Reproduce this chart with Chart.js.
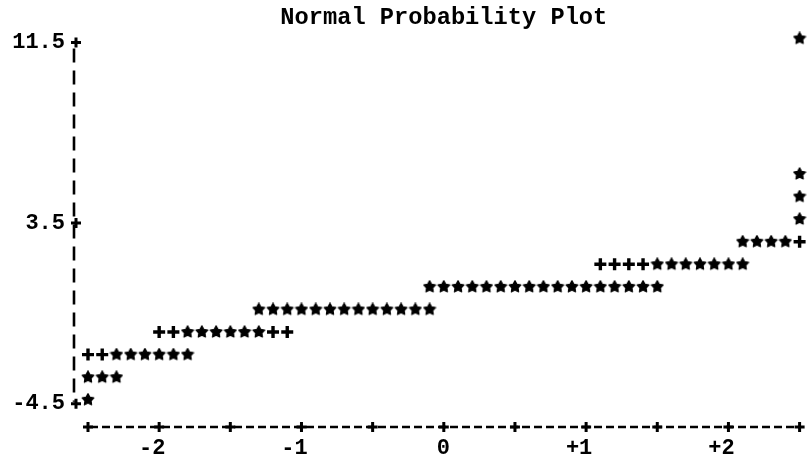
<!DOCTYPE html>
<html>
<head>
<meta charset="utf-8">
<title>Normal Probability Plot</title>
<script src="https://cdn.jsdelivr.net/npm/chart.js@4.4.1/dist/chart.umd.min.js"></script>
<style>
  html, body { margin: 0; padding: 0; background: #fff; }
</style>
</head>
<body>
<canvas id="normPlot" width="809" height="462"></canvas>
<script>
// '*' = observations (normal quantile, value)
var starX = [
  -2.5,
  -2.5, -2.4, -2.3,
  -2.3, -2.2, -2.1, -2.0, -1.9, -1.8,
  -1.8, -1.7, -1.6, -1.5, -1.4, -1.3,
  -1.3, -1.2, -1.1, -1.0, -0.9, -0.8, -0.7, -0.6, -0.5, -0.4, -0.3, -0.2, -0.1,
  -0.1, 0, 0.1, 0.2, 0.3, 0.4, 0.5, 0.6, 0.7, 0.8, 0.9, 1.0, 1.1, 1.2, 1.3, 1.4, 1.5,
  1.5, 1.6, 1.7, 1.8, 1.9, 2.0, 2.1,
  2.1, 2.2, 2.3, 2.4,
  2.5, 2.5, 2.5, 2.5
];
var starY = [
  -4.5,
  -3.5, -3.5, -3.5,
  -2.5, -2.5, -2.5, -2.5, -2.5, -2.5,
  -1.5, -1.5, -1.5, -1.5, -1.5, -1.5,
  -0.5, -0.5, -0.5, -0.5, -0.5, -0.5, -0.5, -0.5, -0.5, -0.5, -0.5, -0.5, -0.5,
  0.5, 0.5, 0.5, 0.5, 0.5, 0.5, 0.5, 0.5, 0.5, 0.5, 0.5, 0.5, 0.5, 0.5, 0.5, 0.5, 0.5,
  1.5, 1.5, 1.5, 1.5, 1.5, 1.5, 1.5,
  2.5, 2.5, 2.5, 2.5,
  3.5, 4.5, 5.5, 11.5
];
// '+' = normal reference line where it is not hidden by a '*'
var refX = [-2.5, -2.4, -2.0, -1.9, -1.2, -1.1, 1.1, 1.2, 1.3, 1.4, 2.5];
var refY = [-2.5, -2.5, -1.5, -1.5, -1.5, -1.5, 1.5, 1.5, 1.5, 1.5, 2.5];

var yTicks = [11.5, 3.5, -4.5];
var xTickVals = [-2, -1, 0, 1, 2];
var xTickText = ["-2", "-1", "0", "+1", "+2"];

var FONT = "'Liberation Mono', 'DejaVu Sans Mono', monospace";

function toPoints(xs, ys) {
  return xs.map(function (v, i) { return {x: v, y: ys[i]}; });
}

// filled star used for the '*' marks
function makeStar(size) {
  var c = document.createElement('canvas');
  c.width = size; c.height = size;
  var g = c.getContext('2d');
  var cx = size / 2, cy = size / 2, ro = size / 2 - 0.8, ri = ro * 0.52;
  g.beginPath();
  for (var i = 0; i < 10; i++) {
    var r = i % 2 ? ri : ro;
    var a = -Math.PI / 2 + i * Math.PI / 5;
    g.lineTo(cx + r * Math.cos(a), cy + r * Math.sin(a));
  }
  g.closePath();
  g.fillStyle = '#000';
  g.fill();
  g.lineJoin = 'round';
  g.lineWidth = 1.2;
  g.strokeStyle = '#000';
  g.stroke();
  return c;
}

// dashed "|" and "-----+" axes like the printer output
var textAxes = {
  id: 'textAxes',
  afterDraw: function (chart) {
    var ctx = chart.ctx, x = chart.scales.x, y = chart.scales.y;
    var ax = x.left - 14, ay = y.bottom - 1;
    function plus(px, py) {
      ctx.beginPath();
      ctx.moveTo(px - 5, py); ctx.lineTo(px + 5, py);
      ctx.moveTo(px, py - 5); ctx.lineTo(px, py + 5);
      ctx.stroke();
    }
    ctx.save();
    ctx.strokeStyle = '#000';
    ctx.lineWidth = 2.6;
    ctx.setLineDash([14, 8]);
    ctx.beginPath();
    ctx.moveTo(ax, y.getPixelForValue(11.5) + 10);
    ctx.lineTo(ax, y.getPixelForValue(-4.5) + 2);
    ctx.stroke();
    ctx.setLineDash([8, 4]);
    ctx.lineDashOffset = -2;
    ctx.beginPath();
    ctx.moveTo(x.left, ay);
    ctx.lineTo(x.right, ay);
    ctx.stroke();
    ctx.setLineDash([]);
    ctx.lineWidth = 3;
    x.ticks.forEach(function (t) { plus(x.getPixelForValue(t.value), ay); });
    yTicks.forEach(function (v) { plus(ax + 2, y.getPixelForValue(v) + 4); });
    ctx.restore();
  }
};

new Chart("normPlot", {
  type: "scatter",
  data: {
    datasets: [{
      label: "reference",
      data: toPoints(refX, refY),
      pointStyle: "cross",
      pointRadius: 6,
      pointBorderWidth: 3.4,
      borderColor: "#000",
      clip: false
    }, {
      label: "observed",
      data: toPoints(starX, starY),
      pointStyle: makeStar(14),
      clip: false
    }]
  },
  options: {
    responsive: false,
    animation: false,
    layout: {padding: {left: 12, right: 3, top: 0, bottom: 3}},
    plugins: {
      legend: {display: false},
      tooltip: {enabled: false},
      title: {
        display: true,
        fullSize: false,
        text: "Normal Probability Plot",
        color: "#000",
        font: {family: FONT, size: 23.7, weight: "bold", lineHeight: 1.2},
        padding: {top: 4, bottom: 6}
      }
    },
    scales: {
      x: {
        type: "linear",
        min: -2.5,
        max: 2.5,
        grid: {display: false, drawTicks: false},
        border: {display: false},
        afterBuildTicks: function (axis) {
          var t = [];
          for (var v = -2.5; v <= 2.5001; v += 0.5) t.push({value: Math.round(v * 10) / 10});
          axis.ticks = t;
        },
        afterFit: function (axis) {
          axis.height = 31;
          axis.paddingLeft = 0;
          axis.paddingRight = 0;
        },
        ticks: {
          autoSkip: false,
          maxRotation: 0,
          padding: 9,
          labelOffset: -7,
          color: "#000",
          font: {family: FONT, size: 22, weight: "bold", lineHeight: 1},
          callback: function (v) {
            var i = xTickVals.indexOf(v);
            if (i < 0) return "";
            // pad so the digit sits under its tick like the others
            return xTickText[i].length === 1 ? " " + xTickText[i] : xTickText[i];
          }
        }
      },
      y: {
        type: "linear",
        min: -5.75,
        max: 11.5,
        grid: {display: false, drawTicks: false},
        border: {display: false},
        afterBuildTicks: function (axis) {
          axis.ticks = yTicks.map(function (v) { return {value: v}; });
        },
        afterFit: function (axis) {
          axis.width = 76;
          axis.paddingTop = 0;
          axis.paddingBottom = 0;
        },
        ticks: {
          padding: 23,
          labelOffset: 4,
          color: "#000",
          font: {family: FONT, size: 22, weight: "bold"},
          callback: function (v) { return v.toFixed(1); }
        }
      }
    }
  },
  plugins: [textAxes]
});
</script>
</body>
</html>
